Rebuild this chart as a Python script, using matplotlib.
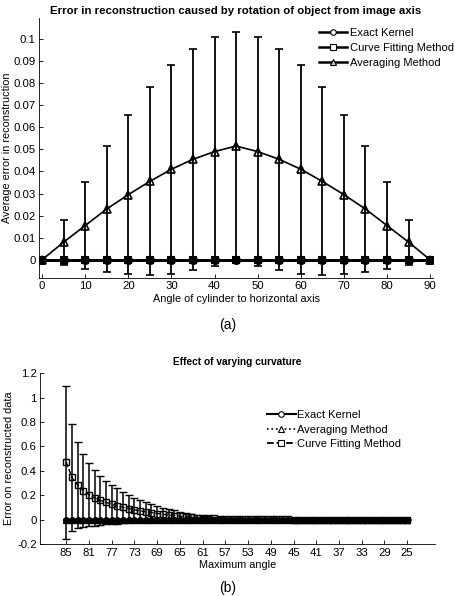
import numpy as np
import matplotlib
matplotlib.use('Agg')
import matplotlib.pyplot as plt
from matplotlib.ticker import FuncFormatter
from matplotlib.lines import Line2D

plt.rcParams['font.family'] = ['Liberation Sans', 'DejaVu Sans']
plt.rcParams['font.size'] = 8.5

# ---------- (a) rotation of object ----------
angles_a = [0, 5, 10, 15, 20, 25, 30, 35, 40, 45, 50, 55, 60, 65, 70, 75, 80, 85, 90]
exact_a = [0] * 19
exact_a_err = [0.0003] * 19
curve_a = [0] * 19
curve_a_err = [0.0003] * 19
avg_a = [0, 0.008, 0.0155, 0.023, 0.0295, 0.0355, 0.041, 0.0455, 0.049, 0.0515,
         0.049, 0.0455, 0.041, 0.0355, 0.0295, 0.023, 0.0155, 0.008, 0]
avg_a_err = [0, 0.0102, 0.0198, 0.0285, 0.036, 0.0425, 0.0472, 0.050, 0.0517, 0.0517,
             0.0517, 0.050, 0.0472, 0.0425, 0.036, 0.0285, 0.0198, 0.0102, 0]

# ---------- (b) varying curvature ----------
angles_b = list(range(85, 24, -1))
exact_b = [0] * 61
exact_b_err = [0.002] * 61
avg_b = [0] * 61
avg_b_err = [0.002] * 61
curve_b = [0.47, 0.345, 0.283, 0.238, 0.205, 0.178, 0.157, 0.142, 0.124, 0.110,
           0.100, 0.090, 0.080, 0.072, 0.064, 0.057, 0.050, 0.044, 0.038, 0.033,
           0.028, 0.024, 0.020, 0.017, 0.014, 0.012, 0.010, 0.008, 0.006, 0.005,
           0.004, 0.003, 0.002, 0.002, 0.001, 0.001, 0.001, 0.001, 0.001, 0.001,
           0, 0, 0, 0, 0, 0, 0, 0, 0, 0,
           0, 0, 0, 0, 0, 0, 0, 0, 0, 0, 0]
curve_b_err = [0.625, 0.44, 0.35, 0.297, 0.26, 0.232, 0.203, 0.178, 0.160, 0.145,
               0.130, 0.112, 0.100, 0.088, 0.077, 0.068, 0.060, 0.052, 0.047, 0.042,
               0.037, 0.031, 0.026, 0.022, 0.019, 0.016, 0.013, 0.011, 0.009, 0.008,
               0.007, 0.006, 0.005, 0.005, 0.004, 0.004, 0.004, 0.004, 0.004, 0.004,
               0.004, 0.004, 0.004, 0.004, 0.004, 0.004, 0.004, 0.004, 0.004, 0.004,
               0.004, 0.004, 0.004, 0.004, 0.004, 0.004, 0.004, 0.004, 0.004, 0.004, 0.004]

fmt_g = FuncFormatter(lambda v, p: '%g' % round(v, 6))


def style_axes(ax):
    ax.spines['top'].set_visible(False)
    ax.spines['right'].set_visible(False)
    ax.tick_params(direction='in', length=3, width=0.6, colors='black', labelsize=8.2, pad=2.5)
    for s in ('left', 'bottom'):
        ax.spines[s].set_linewidth(0.6)


fig = plt.figure(figsize=(4.56, 5.96), dpi=100)

# ---- top panel ----
ax1 = fig.add_axes([0.0855, 0.5336, 0.8645, 0.4364])
ax1.errorbar(angles_a, exact_a, yerr=exact_a_err, color='black', lw=2, marker='o',
             ms=5, mfc='black', mec='black', mew=1.5, capsize=3, elinewidth=1)
ax1.errorbar(angles_a, curve_a, yerr=curve_a_err, color='black', lw=2, marker='s',
             ms=5, mfc='black', mec='black', mew=1.5, capsize=3, elinewidth=1)
ax1.errorbar(angles_a, avg_a, yerr=avg_a_err, color='black', lw=1.2, marker='^',
             ms=6, mfc='none', mec='black', mew=1.2, capsize=3, elinewidth=1.3,
             capthick=1.3)
ax1.set_xlim(-0.7, 90.7)
ax1.set_ylim(-0.0082, 0.1095)
ax1.set_xticks(np.arange(0, 91, 10))
ax1.set_yticks(np.arange(0, 0.1001, 0.01))
ax1.yaxis.set_major_formatter(fmt_g)
style_axes(ax1)
ax1.set_title('Error in reconstruction caused by rotation of object from image axis',
              fontsize=8.2, fontweight='bold', pad=3)
ax1.set_xlabel('Angle of cylinder to horizontal axis', fontsize=7.8, labelpad=2)
ax1.set_ylabel('Average error in reconstruction', fontsize=7.8, va='center')
ax1.yaxis.set_label_coords(-0.080, 0.5)
leg_a = [
    Line2D([], [], color='black', lw=1.8, marker='o', ms=4, mfc='white', mec='black', mew=0.8),
    Line2D([], [], color='black', lw=1.8, marker='s', ms=4, mfc='white', mec='black', mew=0.8),
    Line2D([], [], color='black', lw=1.8, marker='^', ms=5, mfc='#cccccc', mec='black', mew=0.8),
]
fig.legend(leg_a, ['Exact Kernel', 'Curve Fitting Method', 'Averaging Method'],
           loc='upper left', bbox_to_anchor=(0.70, 0.953), frameon=False,
           fontsize=8, handlelength=2.5, handletextpad=0.3, labelspacing=0.45,
           borderaxespad=0, borderpad=0)
fig.text(0.5, 0.455, '(a)', ha='center', va='center', fontsize=10)

# ---- bottom panel ----
ax2 = fig.add_axes([0.088, 0.0872, 0.866, 0.2868])
ax2.errorbar(angles_b, exact_b, yerr=exact_b_err, color='black', lw=1.2, ls='-',
             marker='o', ms=4, mfc='black', mec='black', mew=1, capsize=2,
             elinewidth=0.8)
ax2.errorbar(angles_b, avg_b, yerr=avg_b_err, color='black', lw=1.2, ls=':',
             marker='^', ms=4.5, mfc='black', mec='black', mew=1, capsize=2,
             elinewidth=0.8)
ax2.errorbar(angles_b, curve_b, yerr=curve_b_err, color='black', lw=1, ls='--',
             marker='s', ms=5, mfc='none', mec='black', mew=1, capsize=2.8,
             elinewidth=1.1, capthick=1.1)
ax2.set_xlim(89.6, 20.1)
ax2.set_ylim(-0.2, 1.2)
ax2.set_xticks(np.arange(85, 24, -4))
ax2.set_yticks(np.arange(-0.2, 1.201, 0.2))
ax2.yaxis.set_major_formatter(fmt_g)
style_axes(ax2)
ax2.set_title('Effect of varying curvature', fontsize=7.3, fontweight='bold', pad=6)
ax2.set_xlabel('Maximum angle', fontsize=7.8, labelpad=2)
ax2.set_ylabel('Error on reconstructed data', fontsize=7.8, va='center')
ax2.yaxis.set_label_coords(-0.078, 0.5)
leg_b = [
    Line2D([], [], color='black', lw=1.5, ls='-', marker='o', ms=4, mfc='white', mec='black', mew=0.8),
    Line2D([], [], color='black', lw=1.2, ls=':', marker='^', ms=4.5, mfc='white', mec='black', mew=0.8),
    Line2D([], [], color='black', lw=1.3, ls='--', marker='s', ms=4, mfc='white', mec='black', mew=0.8),
]
fig.legend(leg_b, ['Exact Kernel', 'Averaging Method', 'Curve Fitting Method'],
           loc='upper left', bbox_to_anchor=(0.585, 0.312), frameon=False,
           fontsize=8, handlelength=2.6, handletextpad=0.15, labelspacing=0.42,
           borderaxespad=0, borderpad=0)
fig.text(0.5, 0.0134, '(b)', ha='center', va='center', fontsize=10)

fig.savefig('out.png', dpi=100)
